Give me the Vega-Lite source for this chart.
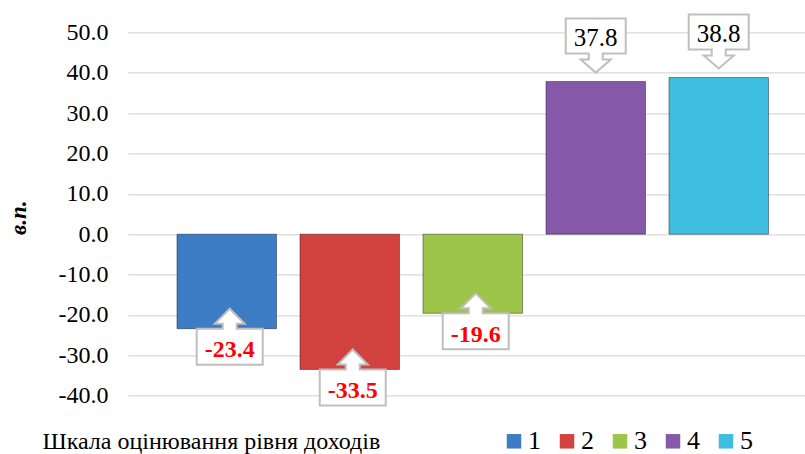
{
  "$schema": "https://vega.github.io/schema/vega-lite/v6.json",
  "width": 677,
  "height": 363.4,
  "autosize": {"type": "none"},
  "padding": {"left": 128, "top": 32.3, "right": 0, "bottom": 58.3},
  "background": "white",
  "config": {
    "view": {"stroke": null},
    "font": "Liberation Serif",
    "locale": {"number": {"decimal": ".", "thousands": ",", "grouping": [3], "currency": ["$", ""], "minus": "-"}}
  },
  "data": {
    "values": [
      {"group": "1", "value": -23.4},
      {"group": "2", "value": -33.5},
      {"group": "3", "value": -19.6},
      {"group": "4", "value": 37.8},
      {"group": "5", "value": 38.8}
    ]
  },
  "encoding": {
    "x": {
      "field": "group",
      "type": "nominal",
      "scale": {"paddingInner": 0.191, "paddingOuter": 0.3475, "align": 0.573},
      "axis": {
        "labels": false,
        "ticks": false,
        "domain": false,
        "title": "Шкала оцінювання рівня доходів",
        "titleFont": "Liberation Serif",
        "titleFontSize": 24,
        "titleFontWeight": "normal",
        "titleColor": "black",
        "titleX": -86,
        "titleY": 53,
        "titleAlign": "left",
        "titleAnchor": "start",
        "titleBaseline": "alphabetic"
      }
    },
    "y": {
      "field": "value",
      "type": "quantitative",
      "scale": {"domain": [-40, 50], "nice": false, "zero": false},
      "axis": {
        "values": [-40, -30, -20, -10, 0, 10, 20, 30, 40, 50],
        "format": ".1f",
        "labelExpr": "replace(datum.label, '\u2212', '-')",
        "grid": true,
        "gridColor": "#d9d9d9",
        "gridWidth": 1.3,
        "domain": false,
        "ticks": false,
        "labelFont": "Liberation Serif",
        "labelFontSize": 24,
        "labelColor": "black",
        "labelPadding": 20,
        "title": "в.п.",
        "titleFont": "Liberation Serif",
        "titleFontSize": 23,
        "titleFontStyle": "italic",
        "titleFontWeight": "bold",
        "titleColor": "black",
        "titleX": -110,
        "titleY": 185,
        "titleAngle": -90,
        "titleAlign": "center",
        "titleBaseline": "middle"
      }
    }
  },
  "layer": [
    {
      "mark": {"type": "bar", "stroke": "#000000", "strokeOpacity": 0.4, "strokeWidth": 1},
      "encoding": {
        "y2": {"datum": 0},
        "color": {
          "field": "group",
          "type": "nominal",
          "scale": {
            "domain": ["1", "2", "3", "4", "5"],
            "range": ["#3c7dc6", "#d2423e", "#9cc54a", "#8558a9", "#3dbde0"]
          },
          "legend": {
            "orient": "none",
            "direction": "horizontal",
            "columns": 5,
            "legendX": 373,
            "legendY": 396,
            "title": null,
            "padding": 0,
            "symbolType": "square",
            "symbolSize": 210,
            "symbolStrokeWidth": 0,
            "symbolOpacity": 1,
            "labelFont": "Liberation Serif",
            "labelFontSize": 26,
            "labelColor": "black",
            "labelOffset": 1,
            "columnPadding": 13
          }
        }
      }
    },
    {
      "transform": [{"filter": "datum.value < 0"}],
      "mark": {
        "type": "point",
        "shape": "M-30,0 L-4,0 L-4,-5 L-12,-5 L3,-20 L18,-5 L10,-5 L10,0 L36,0 L36,36 L-30,36 Z",
        "size": 4,
        "filled": true,
        "fill": "white",
        "stroke": "#bfbfbf",
        "strokeWidth": 2,
        "opacity": 1
      },
      "encoding": {}
    },
    {
      "transform": [{"filter": "datum.value > 0"}],
      "mark": {
        "type": "point",
        "shape": "M-30,-63 L30,-63 L30,-28 L7,-28 L7,-22 L15,-22 L0,-9 L-15,-22 L-7,-22 L-7,-28 L-30,-28 Z",
        "size": 4,
        "filled": true,
        "fill": "white",
        "stroke": "#bfbfbf",
        "strokeWidth": 2,
        "opacity": 1
      },
      "encoding": {}
    },
    {
      "transform": [{"filter": "datum.value < 0"}],
      "mark": {
        "type": "text",
        "dx": 3,
        "dy": 28.5,
        "baseline": "alphabetic",
        "align": "center",
        "font": "Liberation Serif",
        "fontSize": 24,
        "fontWeight": "bold",
        "color": "#ff0000"
      },
      "encoding": {"text": {"field": "value", "type": "quantitative", "format": ".1f"}}
    },
    {
      "transform": [{"filter": "datum.value > 0"}],
      "mark": {
        "type": "text",
        "dy": -36,
        "baseline": "alphabetic",
        "align": "center",
        "font": "Liberation Serif",
        "fontSize": 25,
        "color": "black"
      },
      "encoding": {"text": {"field": "value", "type": "quantitative", "format": ".1f"}}
    }
  ]
}
